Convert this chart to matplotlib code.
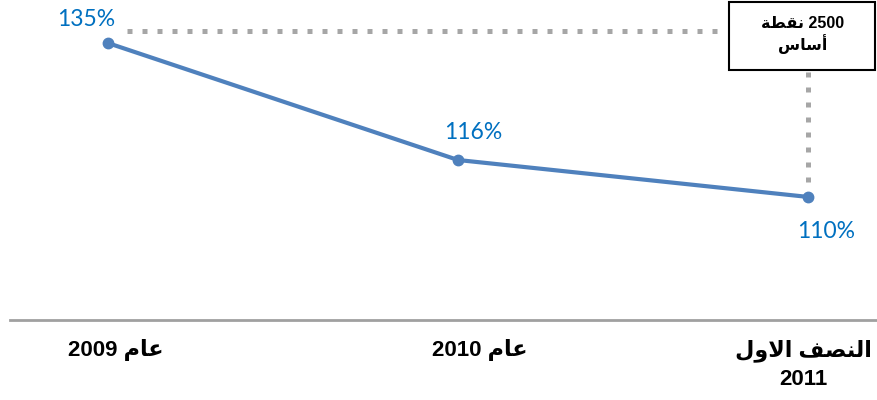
import matplotlib.pyplot as plt
from matplotlib.patches import Rectangle

# values and labels
values = [135, 116, 110]
point_labels = ['135%', '116%', '110%']
# Arabic labels written in presentation forms, visual (left-to-right) order,
# because matplotlib does no Arabic shaping or bidi reordering
year_word = '\uFEE1\uFE8E\uFECB'                       # عام
first_half = '\uFEDD\uFEED\uFEFB\uFE8D \uFED2\uFEBC\uFEE8\uFEDF\uFE8D'  # النصف الاول
x_labels = ['2009 ' + year_word, '2010 ' + year_word, first_half + '\n2011']
box_text = '\uFE94\uFEC4\uFED8\uFEE7 2500\n\uFEB1\uFE8E\uFEB3\uFE83'  # 2500 نقطة / أساس

line_color = '#4F81BD'
label_color = '#0070C0'
grey = '#A6A6A6'

fig = plt.figure(figsize=(8.78, 4.0), dpi=100)
ax = fig.add_axes([10 / 878, 80 / 400, 868 / 878, 320 / 400])

x = list(range(len(values)))
ax.plot(x, values, color=line_color, lw=3, marker='o', markersize=7.5, zorder=3)

# axis scale chosen so the points sit where they do in the picture
ax.set_xlim(-0.28, 2.20)
ax.set_ylim(90, 142)

# dotted guide lines to the annotation box
ax.plot([0.055, 1.77], [136.95, 136.95], color=grey, lw=3.6,
        linestyle=(0, (1, 2)), dash_capstyle='butt', zorder=1)
ax.plot([2, 2], [130.3, 112.5], color=grey, lw=3.6,
        linestyle=(0, (1, 2)), dash_capstyle='butt', zorder=1)

# annotation box
box = Rectangle((729 / 878, 330 / 400), 146 / 878, 68 / 400,
                transform=fig.transFigure, fill=True, facecolor='white',
                edgecolor='black', lw=1.5, zorder=5)
fig.patches.append(box)
fig.text(803 / 878, 365 / 400, box_text, ha='center', va='center',
         fontsize=11.5, fontweight='bold', linespacing=1.2,
         family=['Liberation Sans', 'DejaVu Sans'], zorder=6)

# point labels
label_font = ['Lato', 'DejaVu Sans']
offsets = [(-22, 24), (15, 27), (18, -35)]
for xi, yi, txt, (dx, dy) in zip(x, values, point_labels, offsets):
    ax.annotate(txt, (xi, yi), xytext=(dx, dy), textcoords='offset pixels',
                ha='center', va='center', color=label_color, fontsize=16.5,
                family=label_font)

# axis styling
for side in ['top', 'right', 'left']:
    ax.spines[side].set_visible(False)
ax.spines['bottom'].set_color('#A0A0A0')
ax.spines['bottom'].set_linewidth(2)
ax.set_yticks([])
ax.set_xticks(x)
ax.set_xticklabels([])
ax.tick_params(axis='x', length=0)

# x labels, right-aligned like the reference
label_right = [163, 528, 872]
for xr, txt in zip(label_right, x_labels):
    fig.text(xr / 878, (400 - 339) / 400, txt, ha='right', va='top',
             fontsize=16, fontweight='bold', linespacing=1.45,
             multialignment='center', family=['Liberation Sans', 'DejaVu Sans'])

fig.savefig('out.png', dpi=100)
